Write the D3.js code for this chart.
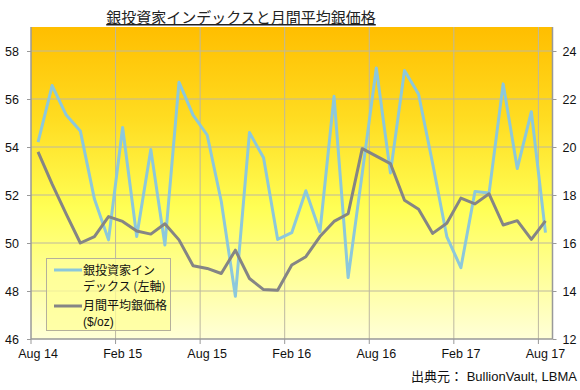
<!DOCTYPE html>
<html>
<head>
<meta charset="utf-8">
<script src="https://cdn.jsdelivr.net/npm/d3@7"></script>
<style>
  html, body { margin: 0; padding: 0; background: #ffffff; }
  svg { display: block; font-family: "Liberation Sans", Arial, "Noto Sans CJK JP", sans-serif; }
</style>
</head>
<body>
<svg id="chart" width="580" height="390"></svg>
<script>
const months = [
  "Aug 14","Sep 14","Oct 14","Nov 14","Dec 14","Jan 15","Feb 15","Mar 15","Apr 15","May 15","Jun 15","Jul 15",
  "Aug 15","Sep 15","Oct 15","Nov 15","Dec 15","Jan 16","Feb 16","Mar 16","Apr 16","May 16","Jun 16","Jul 16",
  "Aug 16","Sep 16","Oct 16","Nov 16","Dec 16","Jan 17","Feb 17","Mar 17","Apr 17","May 17","Jun 17","Jul 17",
  "Aug 17"
];
const investorIndex = [
  54.2, 56.56, 55.33, 54.67, 51.83, 50.13, 54.81, 50.27, 53.9, 49.92, 56.7, 55.33,
  54.5, 51.73, 47.78, 54.6, 53.55, 50.15, 50.43, 52.18, 50.47, 56.11, 48.56, 52.9,
  57.29, 52.92, 57.19, 56.2, 53.3, 50.27, 48.97, 52.15, 52.08, 56.63, 53.1, 55.47,
  50.43
];
const silverPrice = [
  19.8, 18.45, 17.2, 16.0, 16.27, 17.1, 16.9, 16.5, 16.37, 16.8, 16.13, 15.05,
  14.94, 14.73, 15.7, 14.52, 14.06, 14.03, 15.08, 15.43, 16.27, 16.9, 17.22, 19.93,
  19.62, 19.31, 17.78, 17.41, 16.4, 16.82, 17.87, 17.63, 18.05, 16.75, 16.93, 16.15,
  16.92
];
const xTickLabels = ["Aug 14","Feb 15","Aug 15","Feb 16","Aug 16","Feb 17","Aug 17"];
const leftTicks = [46, 48, 50, 52, 54, 56, 58];
const rightTicks = [12, 14, 16, 18, 20, 22, 24];
const titleText = "銀投資家インデックスと月間平均銀価格";
const legendIndexLines = ["銀投資家イン", "デックス (左軸)"];
const legendPriceLines = ["月間平均銀価格", "($/oz)"];
const sourceText = "出典元： BullionVault, LBMA";

const svg = d3.select("#chart");
const L = 31, R = 552.5, T = 27, B = 339;

const x = d3.scaleBand().domain(months).range([L, R]).paddingInner(0).paddingOuter(0);
const yL = d3.scaleLinear().domain([46, 59]).range([B, T]);
const yR = d3.scaleLinear().domain([12, 25]).range([B, T]);
const cx = d => x(d) + x.bandwidth() / 2;

// background gradient
const defs = svg.append("defs");
const grad = defs.append("linearGradient").attr("id", "bg").attr("x1", 0).attr("y1", 0).attr("x2", 0).attr("y2", 1);
grad.append("stop").attr("offset", "0%").attr("stop-color", "#FFBE00");
grad.append("stop").attr("offset", "30%").attr("stop-color", "#FFDD22");
grad.append("stop").attr("offset", "58%").attr("stop-color", "#FFFF55");
grad.append("stop").attr("offset", "100%").attr("stop-color", "#FFFFD8");
svg.append("rect").attr("x", L).attr("y", T).attr("width", R - L).attr("height", B - T).attr("fill", "url(#bg)");

// horizontal grid
svg.append("g").selectAll("line").data(leftTicks.filter(v => v > 46)).join("line")
  .attr("x1", L).attr("x2", R).attr("y1", d => yL(d)).attr("y2", d => yL(d))
  .attr("stroke", "#BDB8A0").attr("stroke-width", 1);
// vertical grid
svg.append("g").selectAll("line").data(xTickLabels.filter(m => m !== months[0])).join("line")
  .attr("x1", d => x(d)).attr("x2", d => x(d)).attr("y1", T).attr("y2", B)
  .attr("stroke", "#BDB8A0").attr("stroke-width", 1);

// axes
const axisColor = "#999999";
const gL = svg.append("g").attr("transform", `translate(${L},0)`)
  .call(d3.axisLeft(yL).tickValues(leftTicks).tickSize(4).tickPadding(8));
const gR = svg.append("g").attr("transform", `translate(${R},0)`)
  .call(d3.axisRight(yR).tickValues(rightTicks).tickSize(4).tickPadding(6));
const gB = svg.append("g").attr("transform", `translate(0,${B})`)
  .call(d3.axisBottom(x).tickValues(xTickLabels).tickSize(0).tickPadding(10));
[gL, gR, gB].forEach(g => {
  g.select(".domain").attr("stroke", axisColor).attr("stroke-width", 1.5);
  g.selectAll(".tick line").attr("stroke", axisColor);
  g.selectAll(".tick text").attr("fill", "#111").attr("font-size", 12.5)
    .attr("font-family", "'Liberation Sans', Arial, sans-serif");
});
gL.select(".domain").attr("d", `M-0,${T}V${B}`);
gR.select(".domain").attr("d", `M0,${T}V${B}`);
gB.select(".domain").attr("d", `M${L},0H${R}`);
// bottom tick marks at band boundaries
gB.selectAll(".tick").append("line")
  .attr("x1", -x.bandwidth() / 2).attr("x2", -x.bandwidth() / 2)
  .attr("y1", 0).attr("y2", 5).attr("stroke", axisColor);

// lines
const lineIndex = d3.line().x((d, i) => cx(months[i])).y(d => yL(d));
const linePrice = d3.line().x((d, i) => cx(months[i])).y(d => yR(d));
svg.append("path").datum(investorIndex).attr("d", lineIndex)
  .attr("fill", "none").attr("stroke", "#8CC8DC").attr("stroke-width", 3).attr("stroke-linejoin", "round");
svg.append("path").datum(silverPrice).attr("d", linePrice)
  .attr("fill", "none").attr("stroke", "#858585").attr("stroke-width", 3).attr("stroke-linejoin", "round");

// legend
const lg = svg.append("g");
lg.append("rect").attr("x", 46.5).attr("y", 258.5).attr("width", 124).attr("height", 72)
  .attr("fill", "#FFFF99").attr("fill-opacity", 0.75).attr("stroke", "#B5B09A").attr("stroke-width", 1);
lg.append("line").attr("x1", 54).attr("x2", 82).attr("y1", 270).attr("y2", 270)
  .attr("stroke", "#8CC8DC").attr("stroke-width", 3);
lg.append("line").attr("x1", 54).attr("x2", 82).attr("y1", 306).attr("y2", 306)
  .attr("stroke", "#858585").attr("stroke-width", 3);
const legFont = "'Noto Sans CJK JP', 'Liberation Sans', sans-serif";
legendIndexLines.forEach((t, i) => {
  lg.append("text").attr("x", 83).attr("y", 275 + i * 16).text(t)
    .attr("font-size", 12).attr("fill", "#111").attr("font-family", legFont);
});
lg.append("text").attr("x", 83).attr("y", 310).text(legendPriceLines[0])
  .attr("font-size", 12).attr("fill", "#111").attr("font-family", legFont);
lg.append("text").attr("x", 83).attr("y", 326).text(legendPriceLines[1])
  .attr("font-size", 12).attr("fill", "#111").attr("font-family", "'Liberation Sans', Arial, sans-serif");

// title
svg.append("text").attr("x", 241).attr("y", 23).attr("text-anchor", "middle")
  .attr("font-size", 15).attr("fill", "#222").attr("text-decoration", "underline")
  .attr("font-family", "'Noto Sans CJK JP', sans-serif").text(titleText);

// source
svg.append("text").attr("x", 577).attr("y", 381).attr("text-anchor", "end")
  .attr("font-size", 13).attr("fill", "#111")
  .attr("font-family", "'Liberation Sans', 'Noto Sans CJK JP', sans-serif").text(sourceText);
</script>
</body>
</html>
